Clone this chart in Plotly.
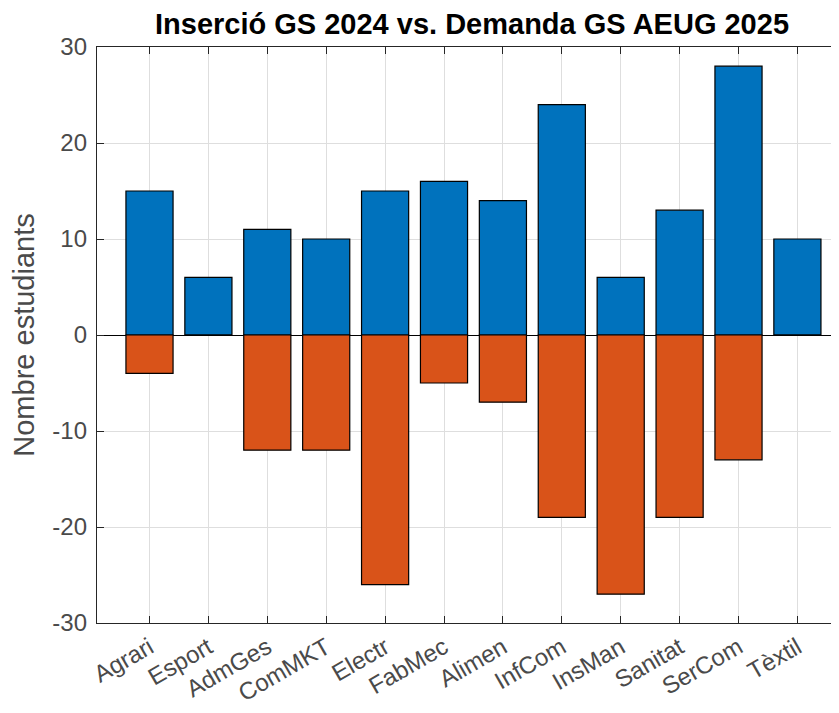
import plotly.graph_objects as go

categories = ["Agrari", "Esport", "AdmGes", "ComMKT", "Electr", "FabMec",
              "Alimen", "InfCom", "InsMan", "Sanitat", "SerCom", "Tèxtil"]
insercio_2024 = [15, 6, 11, 10, 15, 16, 14, 24, 6, 13, 28, 10]
demanda_2025 = [-4, 0, -12, -12, -26, -5, -7, -19, -27, -19, -13, 0]
y_ticks = [-30, -20, -10, 0, 10, 20, 30]
y_tick_labels = ["-30", "-20", "-10", "0", "10", "20", "30"]

title_text = "Inserció GS 2024 vs. Demanda GS AEUG 2025"
y_label = "Nombre estudiants"

# page body has an 8px margin; compensate so the axes land where the reference has them
OFF = 8
W, H = 839 - OFF, 713 - OFF
ML, MR, MT, MB = 97 - OFF, 0, 47 - OFF, 713 - 623

FONT = "Liberation Sans, Arial, Helvetica, sans-serif"
AX = "#262626"
TXT = "#4a4a4a"

fig = go.Figure()
fig.add_trace(go.Bar(x=categories, y=insercio_2024, width=0.8,
                     marker=dict(color="#0072BD", line=dict(color="#000000", width=1.2)),
                     name="Inserció GS 2024"))
fig.add_trace(go.Bar(x=categories, y=demanda_2025, width=0.8,
                     marker=dict(color="#D95319", line=dict(color="#000000", width=1.2)),
                     name="Demanda GS AEUG 2025"))

step = 58.9
x_lo = -52.5 / step
x_hi = x_lo + (W - ML) / step

fig.update_layout(
    width=W, height=H,
    margin=dict(l=ML, r=MR, t=MT, b=MB),
    paper_bgcolor="white", plot_bgcolor="white",
    barmode="overlay",
    showlegend=False,
    font=dict(family=FONT, color=TXT, size=24),
    xaxis=dict(
        type="category", range=[x_lo, x_hi],
        showline=True, linecolor=AX, linewidth=1.3, mirror="ticks",
        ticks="inside", ticklen=7, tickcolor=AX, tickwidth=1.3,
        showgrid=True, gridcolor="#dedede", gridwidth=1,
        tickangle=-30, tickfont=dict(size=24, color=TXT),
        zeroline=False,
    ),
    yaxis=dict(
        range=[-30, 30], tickvals=y_ticks, ticktext=y_tick_labels,
        showline=True, linecolor=AX, linewidth=1.3, mirror=False,
        ticks="inside", ticklen=7, tickcolor=AX, tickwidth=1.3,
        showgrid=True, gridcolor="#dedede", gridwidth=1,
        zeroline=True, zerolinecolor="#000000", zerolinewidth=1.2,
        tickfont=dict(size=24, color=TXT),
        ticklabelstandoff=4,
        title=dict(text=y_label, font=dict(size=29, color=TXT), standoff=9),
    ),
)

title_center_px = 472 - OFF
fig.add_annotation(
    text="<b>" + title_text + "</b>",
    xref="paper", yref="paper",
    x=(title_center_px - ML) / (W - ML - MR), y=1,
    xanchor="center", yanchor="middle", yshift=23,
    showarrow=False, font=dict(size=29, color="#000000", family=FONT),
)

fig.write_html("out.html")
